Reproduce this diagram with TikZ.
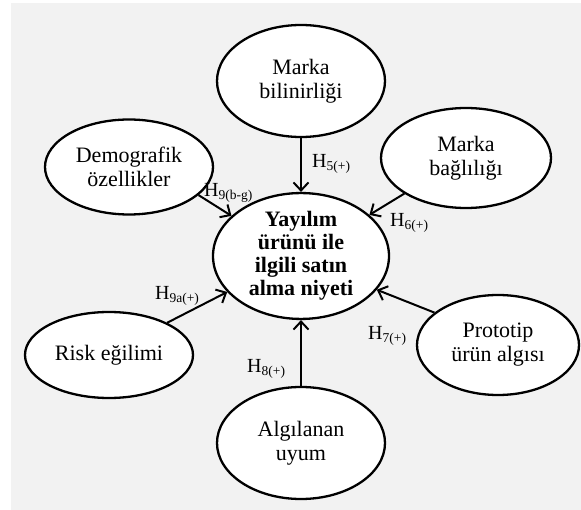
\documentclass[tikz,border=0pt]{standalone}
\usepackage{fontspec}
\setmainfont{Liberation Serif}
\usetikzlibrary{shapes.geometric,arrows.meta}

\tikzset{
  factor/.style={ellipse, draw=black, line width=2.3pt, fill=white,
    inner sep=0pt, align=center, font=\fontsize{22}{24}\selectfont},
  core/.style={factor, font=\bfseries\fontsize{22}{23}\selectfont},
  link/.style={line width=2pt, -{Straight Barb[length=8pt,width=15pt,line width=2pt]}},
  hyp/.style={anchor=base west, inner sep=0pt, font=\fontsize{20}{22}\selectfont},
}
\newcommand{\hsub}[1]{H\raisebox{-2.5pt}{\fontsize{13.5}{14}\selectfont #1}}

\begin{document}
\begin{tikzpicture}[x=1pt,y=-1pt]
  \useasboundingbox (0,0) rectangle (581,510);
  \fill[fill={rgb,255:red,242;green,242;blue,242}] (11,3) rectangle (581,510);

  % constructs
  \node[core, minimum width=176pt, minimum height=114pt] (C) at (301,256)
    {Yayılım\\ürünü ile\\ilgili satın\\alma niyeti};
  \node[factor, minimum width=168pt, minimum height=112pt] (MB) at (301,81)
    {Marka\\bilinirliği};
  \node[factor, minimum width=168pt, minimum height=95pt] (DO) at (129,167)
    {Demografik\\özellikler};
  \node[factor, minimum width=170pt, minimum height=100pt] (BA) at (466,158)
    {Marka\\bağlılığı};
  \node[factor, minimum width=168pt, minimum height=86pt] (RE) at (109,355)
    {Risk eğilimi};
  \node[factor, minimum width=162pt, minimum height=100pt] (PR) at (498,345)
    {Prototip\\ürün algısı};
  \node[factor, minimum width=168pt, minimum height=112pt] (AU) at (301,443)
    {Algılanan\\uyum};

  % hypothesised paths
  \draw[link] (MB.south) -- (C.north);
  \draw[link] (DO.-22) -- (C.150);
  \draw[link] (BA.210) -- (C.31);
  \draw[link] (RE.29) -- (C.206);
  \draw[link] (PR.153) -- (C.-24);
  \draw[link] (AU.north) -- (C.south);

  % hypothesis labels
  \node[hyp] (h5) at (312,168) {\hsub{5(+)}};
  \node[hyp] (h9bg) at (204,197) {\hsub{9(b-g)}};
  \node[hyp] (h6) at (390,227) {\hsub{6(+)}};
  \node[hyp] (h9a) at (155,300) {\hsub{9a(+)}};
  \node[hyp] (h7) at (368,340) {\hsub{7(+)}};
  \node[hyp] (h8) at (247,373) {\hsub{8(+)}};
\end{tikzpicture}
\end{document}
